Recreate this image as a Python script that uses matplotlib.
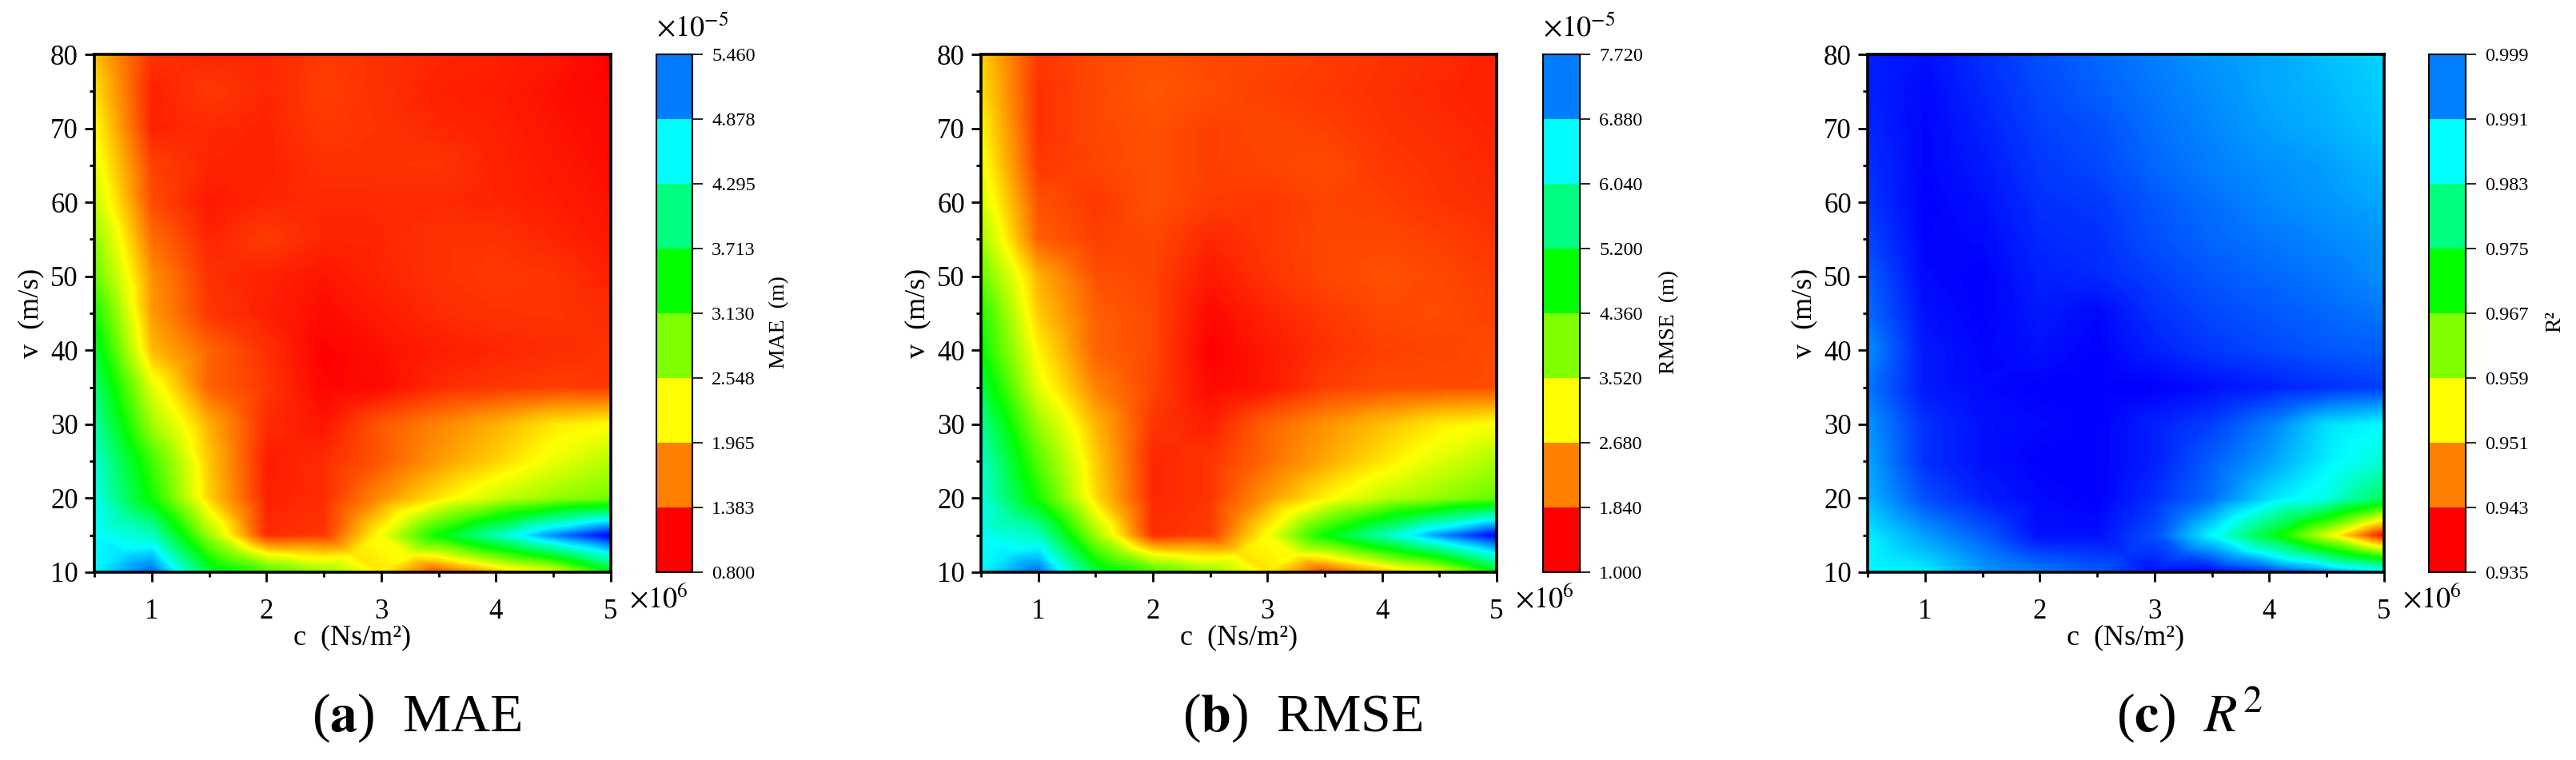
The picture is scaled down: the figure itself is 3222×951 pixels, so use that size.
import numpy as np
import matplotlib
matplotlib.use('Agg')
import matplotlib.pyplot as plt
import matplotlib.tri as mtri
from matplotlib.colors import LinearSegmentedColormap, Normalize

plt.rcParams['font.family'] = ['Liberation Serif', 'DejaVu Serif']
plt.rcParams['mathtext.fontset'] = 'stix'

# grid of the parameter sweep
c_vals = [0.5, 1, 1.5, 2, 2.5, 3, 3.5, 4, 4.5, 5]  # x10^6 Ns/m2
v_vals = [10, 15, 20, 25, 30, 35, 40, 45, 50, 55, 60, 65, 70, 75, 80]

# rows go with v_vals, columns with c_vals
mae = [
    [4.35, 5.00, 3.40, 2.85, 2.45, 1.85, 1.10, 1.60, 2.00, 3.10],
    [4.30, 4.00, 2.40, 1.00, 1.05, 2.00, 3.13, 3.95, 4.80, 5.46],
    [4.20, 3.06, 1.75, 0.95, 1.00, 1.45, 1.85, 2.20, 2.45, 2.60],
    [4.08, 2.85, 1.70, 0.93, 1.00, 1.20, 1.50, 1.75, 2.05, 2.30],
    [3.86, 2.40, 1.60, 1.00, 0.90, 1.20, 1.40, 1.60, 1.85, 1.95],
    [3.64, 2.10, 1.25, 1.05, 0.82, 0.85, 1.00, 1.05, 1.08, 1.05],
    [3.35, 1.65, 1.25, 1.02, 0.80, 0.87, 0.93, 0.97, 1.00, 1.04],
    [3.05, 1.50, 1.05, 0.94, 0.85, 0.92, 1.00, 1.03, 1.04, 1.00],
    [2.70, 1.46, 1.02, 0.96, 0.89, 0.97, 1.03, 1.06, 1.04, 0.95],
    [2.50, 1.30, 0.97, 1.07, 0.97, 0.98, 1.03, 1.03, 0.97, 0.90],
    [2.25, 1.15, 0.91, 0.98, 0.99, 0.99, 0.99, 0.97, 0.93, 0.88],
    [2.08, 1.10, 0.97, 0.96, 1.02, 1.03, 1.04, 0.96, 0.91, 0.86],
    [1.965, 0.96, 0.99, 0.96, 1.06, 1.03, 0.98, 0.95, 0.89, 0.84],
    [1.82, 0.95, 1.06, 0.98, 1.08, 1.02, 0.95, 0.93, 0.87, 0.82],
    [1.68, 1.02, 0.98, 0.98, 1.06, 1.02, 0.98, 0.95, 0.91, 0.80],
]
rmse = [
    [6.10, 7.00, 4.75, 3.95, 3.40, 2.50, 1.40, 2.10, 2.75, 4.30],
    [5.95, 5.60, 3.30, 1.30, 1.40, 2.70, 4.35, 5.50, 6.70, 7.72],
    [5.80, 4.20, 2.45, 1.25, 1.35, 2.00, 2.60, 3.10, 3.40, 3.70],
    [5.65, 3.80, 2.35, 1.25, 1.35, 1.70, 2.10, 2.50, 2.90, 3.25],
    [5.30, 3.35, 2.20, 1.35, 1.20, 1.65, 1.95, 2.25, 2.55, 2.70],
    [4.80, 2.85, 1.85, 1.45, 1.05, 1.15, 1.40, 1.50, 1.50, 1.50],
    [4.36, 2.60, 1.65, 1.47, 1.00, 1.16, 1.32, 1.42, 1.45, 1.50],
    [4.15, 2.32, 1.63, 1.47, 1.05, 1.24, 1.37, 1.47, 1.50, 1.42],
    [3.72, 2.16, 1.53, 1.45, 1.16, 1.34, 1.47, 1.53, 1.47, 1.40],
    [3.30, 1.63, 1.42, 1.47, 1.26, 1.37, 1.47, 1.47, 1.42, 1.34],
    [2.99, 1.53, 1.37, 1.53, 1.40, 1.37, 1.45, 1.42, 1.34, 1.29],
    [2.78, 1.37, 1.45, 1.53, 1.42, 1.45, 1.50, 1.37, 1.32, 1.26],
    [2.63, 1.32, 1.47, 1.53, 1.42, 1.47, 1.42, 1.34, 1.29, 1.24],
    [2.48, 1.32, 1.47, 1.58, 1.50, 1.42, 1.37, 1.32, 1.26, 1.21],
    [2.37, 1.37, 1.47, 1.53, 1.47, 1.45, 1.40, 1.34, 1.29, 1.21],
]
r2 = [
    [0.9830, 0.9840, 0.9890, 0.9910, 0.9930, 0.9980, 0.9985, 0.9950, 0.9900, 0.9840],
    [0.9840, 0.9890, 0.9930, 0.9980, 0.9980, 0.9940, 0.9830, 0.9690, 0.9530, 0.9350],
    [0.9875, 0.9940, 0.9970, 0.9985, 0.9990, 0.9960, 0.9920, 0.9850, 0.9810, 0.9720],
    [0.9885, 0.9960, 0.9980, 0.9990, 0.9990, 0.9970, 0.9930, 0.9890, 0.9840, 0.9800],
    [0.9895, 0.9960, 0.9980, 0.9985, 0.9990, 0.9970, 0.9950, 0.9910, 0.9850, 0.9830],
    [0.9915, 0.9975, 0.9985, 0.9990, 0.9990, 0.9990, 0.9980, 0.9970, 0.9960, 0.9950],
    [0.9900, 0.9975, 0.9987, 0.9980, 0.9990, 0.9970, 0.9955, 0.9945, 0.9935, 0.9930],
    [0.9920, 0.9980, 0.9990, 0.9975, 0.9985, 0.9960, 0.9945, 0.9935, 0.9925, 0.9915],
    [0.9930, 0.9985, 0.9990, 0.9970, 0.9965, 0.9950, 0.9935, 0.9925, 0.9915, 0.9900],
    [0.9945, 0.9988, 0.9985, 0.9965, 0.9960, 0.9940, 0.9925, 0.9915, 0.9905, 0.9895],
    [0.9955, 0.9990, 0.9980, 0.9960, 0.9955, 0.9935, 0.9920, 0.9905, 0.9895, 0.9885],
    [0.9960, 0.9987, 0.9975, 0.9955, 0.9945, 0.9925, 0.9910, 0.9900, 0.9890, 0.9875],
    [0.9965, 0.9987, 0.9970, 0.9950, 0.9940, 0.9920, 0.9905, 0.9890, 0.9880, 0.9865],
    [0.9970, 0.9985, 0.9965, 0.9945, 0.9930, 0.9915, 0.9900, 0.9885, 0.9875, 0.9860],
    [0.9970, 0.9980, 0.9960, 0.9940, 0.9925, 0.9910, 0.9895, 0.9885, 0.9870, 0.9855],
]

mae_ticks = [0.800, 1.383, 1.965, 2.548, 3.130, 3.713, 4.295, 4.878, 5.460]
rmse_ticks = [1.000, 1.840, 2.680, 3.520, 4.360, 5.200, 6.040, 6.880, 7.720]
r2_ticks = [0.935, 0.943, 0.951, 0.959, 0.967, 0.975, 0.983, 0.991, 0.999]

# pixel boxes of the panels in the 3223x951 figure
W, H = 3223, 951
TOP, BOTTOM = 68, 716
panels = [
    (118, 764, 821, 866, mae, mae_ticks, 'MAE  (m)', True, r'($\mathbf{a}$)  MAE'),
    (1227, 1872, 1930, 1976, rmse, rmse_ticks, 'RMSE  (m)', True, r'($\mathbf{b}$)  RMSE'),
    (2336, 2982, 3038, 3084, r2, r2_ticks, 'R²', False, r'($\mathbf{c}$)  $R^2$'),
]

cmap = LinearSegmentedColormap.from_list('origin_rainbow', ['#ff0000', '#ffff00', '#00ff00', '#00ffff', '#0000ff'], N=512)


def box(x0, x1):
    return [x0 / W, 1 - BOTTOM / H, (x1 - x0) / W, (BOTTOM - TOP) / H]


def split_cells(x, y, z):
    # every cell is cut in 4 triangles around its centre
    nx, ny = len(x), len(y)
    X, Y = np.meshgrid(x, y)
    z = np.asarray(z)
    xm = 0.25 * (X[:-1, :-1] + X[:-1, 1:] + X[1:, :-1] + X[1:, 1:])
    ym = 0.25 * (Y[:-1, :-1] + Y[:-1, 1:] + Y[1:, :-1] + Y[1:, 1:])
    zm = 0.25 * (z[:-1, :-1] + z[:-1, 1:] + z[1:, :-1] + z[1:, 1:])
    px = np.r_[X.ravel(), xm.ravel()]
    py = np.r_[Y.ravel(), ym.ravel()]
    pz = np.r_[z.ravel(), zm.ravel()]
    tris = []
    for j in range(ny - 1):
        for i in range(nx - 1):
            a = j * nx + i
            b = a + 1
            d = a + nx
            e = d + 1
            m = nx * ny + j * (nx - 1) + i
            tris += [[a, b, m], [b, e, m], [e, d, m], [d, a, m]]
    return mtri.Triangulation(px, py, tris), pz


fig = plt.figure(figsize=(W / 100, H / 100), dpi=100)

for x0, x1, cx0, cx1, data, ticks, cb_label, has_exp, caption in panels:
    ax = fig.add_axes(box(x0, x1))
    norm = Normalize(ticks[0], ticks[-1])
    tri, pz = split_cells(c_vals, v_vals, data)
    ax.tricontourf(tri, pz, levels=np.linspace(ticks[0], ticks[-1], 300), cmap=cmap, norm=norm, extend='both')
    ax.set_xlim(0.5, 5)
    ax.set_ylim(10, 80)

    ax.set_xticks([1, 2, 3, 4, 5])
    ax.set_xticks([0.5, 1.5, 2.5, 3.5, 4.5], minor=True)
    ax.set_yticks(range(10, 81, 10))
    ax.set_yticks(range(15, 80, 10), minor=True)
    ax.tick_params(which='major', length=8.5, width=2, labelsize=25)
    ax.tick_params(axis='x', which='major', pad=15)
    ax.tick_params(axis='y', which='major', pad=6)
    ax.tick_params(which='minor', length=4.5, width=2)
    for s in ax.spines.values():
        s.set_linewidth(2.6)

    ax.set_xlabel('c  (Ns/m²)', fontsize=26, va='center')
    ax.xaxis.set_label_coords(0.5, -0.1265)
    ax.set_ylabel('v  (m/s)', fontsize=26, va='center')
    ax.yaxis.set_label_coords(-0.122, 0.5)
    ax.text(1.035, -0.068, r'$\times10^{6}$', transform=ax.transAxes, fontsize=26, va='baseline', ha='left')

    # colour bar: solid bins between the ticks
    cax = fig.add_axes(box(cx0, cx1))
    cax.pcolormesh([0, 1], ticks, np.array(ticks[:-1])[:, None], cmap=cmap, norm=norm)
    cax.set_xticks([])
    cax.set_ylim(ticks[0], ticks[-1])
    cax.yaxis.tick_right()
    cax.set_yticks(ticks)
    cax.set_yticklabels(['%.3f' % t for t in ticks])
    cax.tick_params(length=9.5, width=1.2, labelsize=17.5, pad=8)
    for s in cax.spines.values():
        s.set_linewidth(1.5)
    cax.text(3.42, 0.483, cb_label, rotation=90, fontsize=20, va='center', ha='center', transform=cax.transAxes)
    if has_exp:
        cax.text(0, 1.034, r'$\times10^{-5}$', transform=cax.transAxes, fontsize=26, va='baseline', ha='left')

    fig.text(0.5 * (x0 + x1 + 160) / W, 1 - 915 / H, caption, fontsize=49, ha='center', va='baseline')

fig.savefig('out.png', dpi=100)
